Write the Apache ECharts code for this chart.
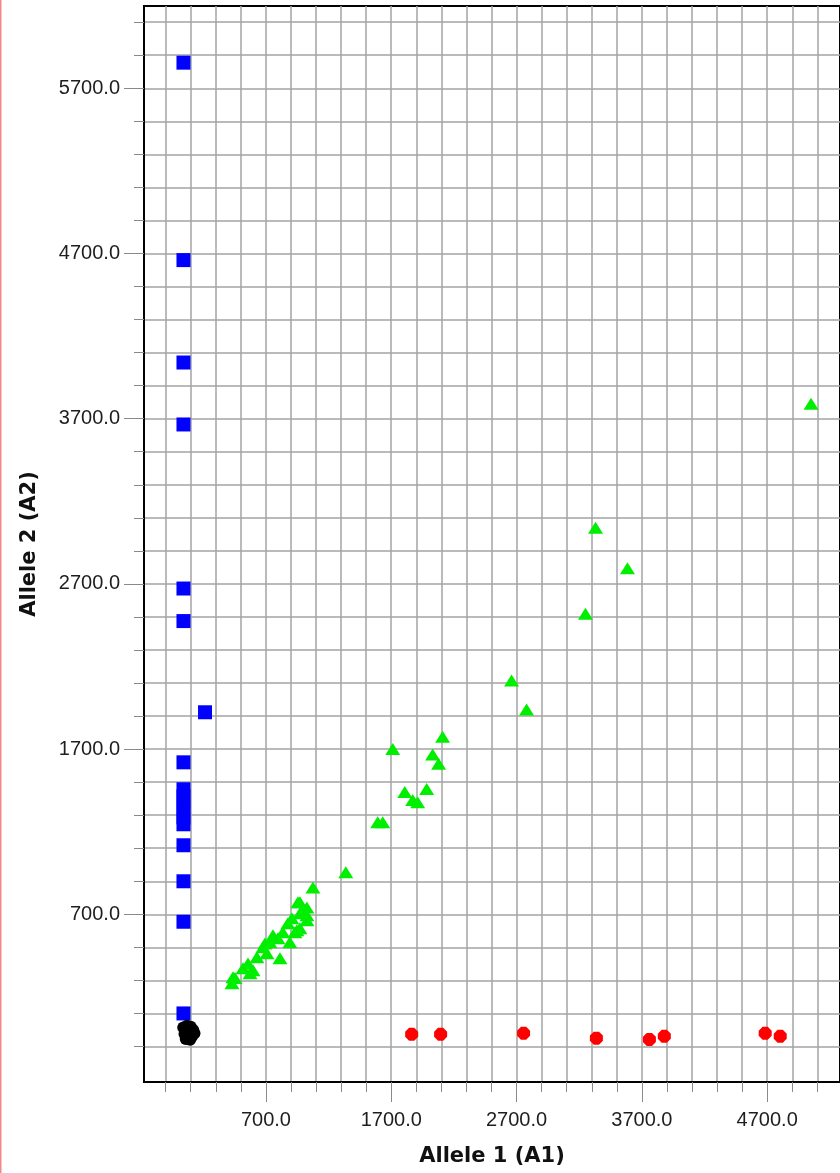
<!DOCTYPE html>
<html>
<head>
<meta charset="utf-8">
<script src="https://cdn.jsdelivr.net/npm/echarts@6/dist/echarts.min.js"></script>
<style>
html,body{margin:0;padding:0;background:#fff;}
#chart{width:840px;height:1173px;}
</style>
</head>
<body>
<div id="chart"></div>
<script>
// ---- data (Allele 1 = x, Allele 2 = y) ----
var blueX = [42, 42, 42, 42, 42, 42, 214, 42, 42, 42, 42, 42, 42, 42, 42, 42, 42, 42];
var blueY = [5855, 4660, 4040, 3665, 2672, 2475, 1923, 1620, 1457, 1414, 1372, 1330, 1287, 1245, 1118, 900, 655, 100];

var greenX = [5050, 3330, 3585, 3250, 2660, 2780, 2110, 1712, 2030, 2078, 1808, 1983, 1871, 1911, 1592, 1632, 1337, 1075, 971, 1027, 971, 1027, 907, 875, 971, 931, 835, 796, 891, 732, 676, 812, 708, 628, 557, 597, 517, 573, 437, 429, 756, 692, 947, 995, 955, 453, 1027];
var greenY = [3790, 3040, 2795, 2520, 2115, 1940, 1775, 1700, 1668, 1612, 1440, 1458, 1392, 1378, 1257, 1258, 954, 862, 773, 742, 706, 664, 676, 646, 615, 591, 591, 555, 531, 531, 500, 434, 464, 440, 403, 361, 373, 343, 319, 282, 573, 524, 603, 724, 773, 315, 694];

var redX = [1863, 2094, 2756, 3337, 3760, 3879, 4684, 4804];
var redY = [-26, -26, -20, -50, -57, -38, -20, -38];

var blackX = [40, 70, 100, 120, 50, 80, 110, 130, 60, 95];
var blackY = [15, 25, 20, 0, -25, -45, -40, -20, -55, -60];

// ---- axis ticks / labels ----
var xGridValues = [-100, 100, 300, 500, 700, 900, 1100, 1300, 1500, 1700, 1900, 2100, 2300, 2500, 2700, 2900, 3100, 3300, 3500, 3700, 3900, 4100, 4300, 4500, 4700, 4900, 5100];
var yGridValues = [-100, 100, 300, 500, 700, 900, 1100, 1300, 1500, 1700, 1900, 2100, 2300, 2500, 2700, 2900, 3100, 3300, 3500, 3700, 3900, 4100, 4300, 4500, 4700, 4900, 5100, 5300, 5500, 5700, 5900, 6100];
var xLabelValues = [700, 1700, 2700, 3700, 4700];
var yLabelValues = [700, 1700, 2700, 3700, 4700, 5700];
var xName = 'Allele 1 (A1)';
var yName = 'Allele 2 (A2)';

function pairs(xs, ys) {
  var out = [];
  for (var i = 0; i < xs.length; i++) out.push([xs[i], ys[i]]);
  return out;
}

var X_MIN = -273, X_MAX = 5281, Y_MIN = -315, Y_MAX = 6198;
var gridColor = '#a3a3a3';
var tickColor = '#8a8a8a';
var labelFont = { fontFamily: '"Liberation Sans", Arial, sans-serif', fontSize: 20, color: '#1e1e1e' };
var nameFont = { fontFamily: '"DejaVu Sans", sans-serif', fontSize: 21, fontWeight: 'bold', color: '#111' };

function fmt(v) { return Number(v).toFixed(1); }

var chart = echarts.init(document.getElementById('chart'), null, { renderer: 'canvas' });
chart.setOption({
  animation: false,
  backgroundColor: '#ffffff',
  grid: {
    left: 144, top: 6, right: -1, bottom: 91,
    show: true, borderColor: '#000', borderWidth: 2, backgroundColor: 'transparent'
  },
  xAxis: [
    {
      type: 'value', min: X_MIN, max: X_MAX, position: 'bottom',
      axisLine: { show: true, onZero: false, lineStyle: { color: '#000', width: 2 } },
      axisTick: { show: true, customValues: xGridValues, length: 10, lineStyle: { color: tickColor, width: 1 } },
      axisLabel: { show: false },
      splitLine: { show: true, lineStyle: { color: gridColor, width: 1.5 } }
    },
    {
      type: 'value', min: X_MIN, max: X_MAX, position: 'bottom',
      axisLine: { show: false, onZero: false },
      axisTick: { show: true, customValues: xLabelValues, length: 20, lineStyle: { color: tickColor, width: 1 } },
      axisLabel: Object.assign({ show: true, customValues: xLabelValues, margin: 28, formatter: fmt }, labelFont),
      splitLine: { show: false },
      name: xName, nameLocation: 'middle', nameGap: 64,
      nameTextStyle: nameFont
    }
  ],
  yAxis: [
    {
      type: 'value', min: Y_MIN, max: Y_MAX, position: 'left',
      axisLine: { show: true, onZero: false, lineStyle: { color: '#000', width: 2 } },
      axisTick: { show: true, customValues: yGridValues, length: 10, lineStyle: { color: tickColor, width: 1 } },
      axisLabel: { show: false },
      splitLine: { show: true, lineStyle: { color: gridColor, width: 1.5 } }
    },
    {
      type: 'value', min: Y_MIN, max: Y_MAX, position: 'left',
      axisLine: { show: false, onZero: false },
      axisTick: { show: true, customValues: yLabelValues, length: 20, lineStyle: { color: tickColor, width: 1 } },
      axisLabel: Object.assign({ show: true, customValues: yLabelValues, margin: 24, formatter: fmt }, labelFont),
      splitLine: { show: false },
      name: yName, nameLocation: 'middle', nameGap: 104,
      nameTextStyle: nameFont
    }
  ],
  graphic: [
    { type: 'rect', left: 0, top: 0, shape: { width: 1.5, height: 1173 }, style: { fill: '#f08a8a' }, silent: true }
  ],
  series: [
    {
      type: 'scatter', name: 'A2A2', xAxisIndex: 0, yAxisIndex: 0,
      symbol: 'rect', symbolSize: 14,
      itemStyle: { color: '#0000ff', opacity: 1 },
      data: pairs(blueX, blueY)
    },
    {
      type: 'scatter', name: 'A1A2', xAxisIndex: 0, yAxisIndex: 0,
      symbol: 'triangle', symbolSize: [15, 12],
      itemStyle: { color: '#00ee00', opacity: 1 },
      data: pairs(greenX, greenY)
    },
    {
      type: 'scatter', name: 'A1A1', xAxisIndex: 0, yAxisIndex: 0,
      symbol: 'path://M3,0 L7,0 L10,3 L10,7 L7,10 L3,10 L0,7 L0,3 Z', symbolSize: 13,
      itemStyle: { color: '#ff0000', opacity: 1 },
      data: pairs(redX, redY)
    },
    {
      type: 'scatter', name: 'NTC', xAxisIndex: 0, yAxisIndex: 0,
      symbol: 'circle', symbolSize: 12,
      itemStyle: { color: '#000000', opacity: 1 },
      data: pairs(blackX, blackY)
    }
  ]
});
</script>
</body>
</html>
